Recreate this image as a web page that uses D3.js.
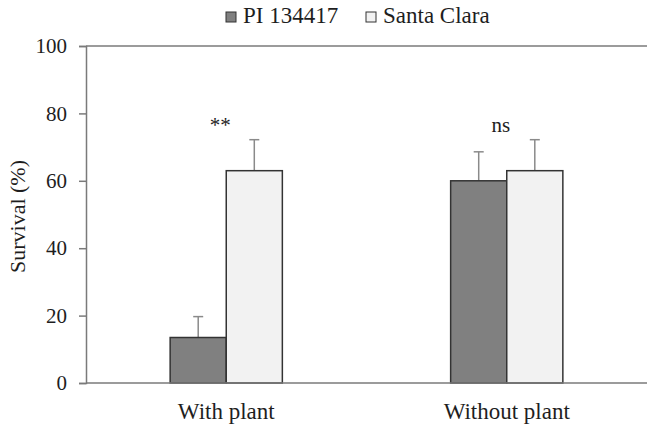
<!doctype html>
<html lang="en">
<head>
	<meta charset="utf-8">
	<script src="https://cdn.jsdelivr.net/npm/d3@7"></script>
</head>
<body style="margin:0">
	<div id="svg"></div>
	<script>
		// data
		var groups = ["With plant", "Without plant"];
		var series = ["PI 134417", "Santa Clara"];
		var piValues = [13.5, 60];
		var piErrors = [6.2, 8.6];
		var scValues = [63, 63];
		var scErrors = [9.2, 9.2];
		var signif = ["**", "ns"];
		var yTicks = [0, 20, 40, 60, 80, 100];

		var colors = { "PI 134417": "#808080", "Santa Clara": "#f2f2f2" };
		var serif = "Liberation Serif";
		var ink = "#1e1e1e";

		var widthSvg = 647, heightSvg = 431;
		var margin = { top: 46, right: 0, bottom: 48, left: 86 };

		var data = groups.map(function(g, i) {
			return {
				group: g,
				sig: signif[i],
				bars: [
					{ s: series[0], v: piValues[i], e: piErrors[i] },
					{ s: series[1], v: scValues[i], e: scErrors[i] }
				]
			};
		});

		var svg = d3.select("#svg").append("svg")
			.attr("width", widthSvg).attr("height", heightSvg);

		var x0 = d3.scaleBand().domain(groups)
			.range([margin.left, widthSvg - margin.right])
			.paddingInner(0.6).paddingOuter(0.3);
		var x1 = d3.scaleBand().domain(series).range([0, x0.bandwidth()]);
		var y = d3.scaleLinear().domain([0, 100]).range([heightSvg - margin.bottom, margin.top]);

		// top line at 100
		svg.append("line")
			.attr("x1", margin.left).attr("x2", widthSvg)
			.attr("y1", y(100)).attr("y2", y(100))
			.attr("stroke", "#7a7a7a").attr("stroke-width", 1.5);

		// y axis
		var yAxis = svg.append("g")
			.attr("transform", "translate(" + margin.left + ",0)")
			.call(d3.axisLeft(y).tickValues(yTicks).tickSize(7).tickPadding(12));
		yAxis.attr("font-family", serif).attr("font-size", 21);
		yAxis.select(".domain").attr("stroke", "#7a7a7a").attr("stroke-width", 1.5);
		yAxis.selectAll(".tick line").attr("stroke", "#7a7a7a").attr("stroke-width", 1.5);
		yAxis.selectAll(".tick text")
			.style("font-family", serif).attr("font-size", 21).attr("fill", ink);

		svg.append("text")
			.attr("transform", "translate(25," + ((y(0) + y(100)) / 2 + 2) + ") rotate(-90)")
			.attr("text-anchor", "middle")
			.style("font-family", serif)
			.attr("font-size", 22)
			.attr("fill", ink)
			.text("Survival (%)");

		var g = svg.selectAll(".grp").data(data).enter().append("g")
			.attr("class", "grp")
			.attr("transform", function(d) { return "translate(" + x0(d.group) + ",0)"; });

		// error bars (behind bars)
		g.selectAll(".err").data(function(d) { return d.bars; }).enter().append("line")
			.attr("x1", function(d) { return x1(d.s) + x1.bandwidth() / 2; })
			.attr("x2", function(d) { return x1(d.s) + x1.bandwidth() / 2; })
			.attr("y1", function(d) { return y(d.v); })
			.attr("y2", function(d) { return y(d.v + d.e); })
			.attr("stroke", "#8a8a8a").attr("stroke-width", 1.5);
		g.selectAll(".cap").data(function(d) { return d.bars; }).enter().append("line")
			.attr("x1", function(d) { return x1(d.s) + x1.bandwidth() / 2 - 5; })
			.attr("x2", function(d) { return x1(d.s) + x1.bandwidth() / 2 + 5; })
			.attr("y1", function(d) { return y(d.v + d.e); })
			.attr("y2", function(d) { return y(d.v + d.e); })
			.attr("stroke", "#8a8a8a").attr("stroke-width", 1.5);

		g.selectAll(".bar").data(function(d) { return d.bars; }).enter().append("rect")
			.attr("x", function(d) { return x1(d.s); })
			.attr("y", function(d) { return y(d.v); })
			.attr("width", x1.bandwidth())
			.attr("height", function(d) { return y(0) - y(d.v); })
			.attr("fill", function(d) { return colors[d.s]; })
			.attr("stroke", "#333").attr("stroke-width", 1.5);

		g.append("text")
			.attr("x", x0.bandwidth() / 2 - 6)
			.attr("y", y(72) - 8)
			.attr("text-anchor", "middle")
			.style("font-family", serif)
			.attr("font-size", 21)
			.attr("fill", ink)
			.text(function(d) { return d.sig; });

		// x axis
		svg.append("line")
			.attr("x1", margin.left).attr("x2", widthSvg)
			.attr("y1", y(0)).attr("y2", y(0))
			.attr("stroke", "#7a7a7a").attr("stroke-width", 1.5);
		svg.selectAll(".xlab").data(groups).enter().append("text")
			.attr("x", function(d) { return x0(d) + x0.bandwidth() / 2; })
			.attr("y", y(0) + 36)
			.attr("text-anchor", "middle")
			.style("font-family", serif)
			.attr("font-size", 23)
			.attr("fill", ink)
			.text(function(d) { return d; });

		// legend
		var legX = [226, 366];
		var leg = svg.selectAll(".leg").data(series).enter().append("g")
			.attr("transform", function(d, i) { return "translate(" + legX[i] + ",12)"; });
		leg.append("rect")
			.attr("width", 10).attr("height", 10)
			.attr("fill", function(d) { return colors[d]; })
			.attr("stroke", "#333").attr("stroke-width", 1);
		leg.append("text")
			.attr("x", 17).attr("y", 11)
			.style("font-family", serif)
			.attr("font-size", 23)
			.attr("fill", ink)
			.text(function(d) { return d; });
	</script>
</body>
</html>
